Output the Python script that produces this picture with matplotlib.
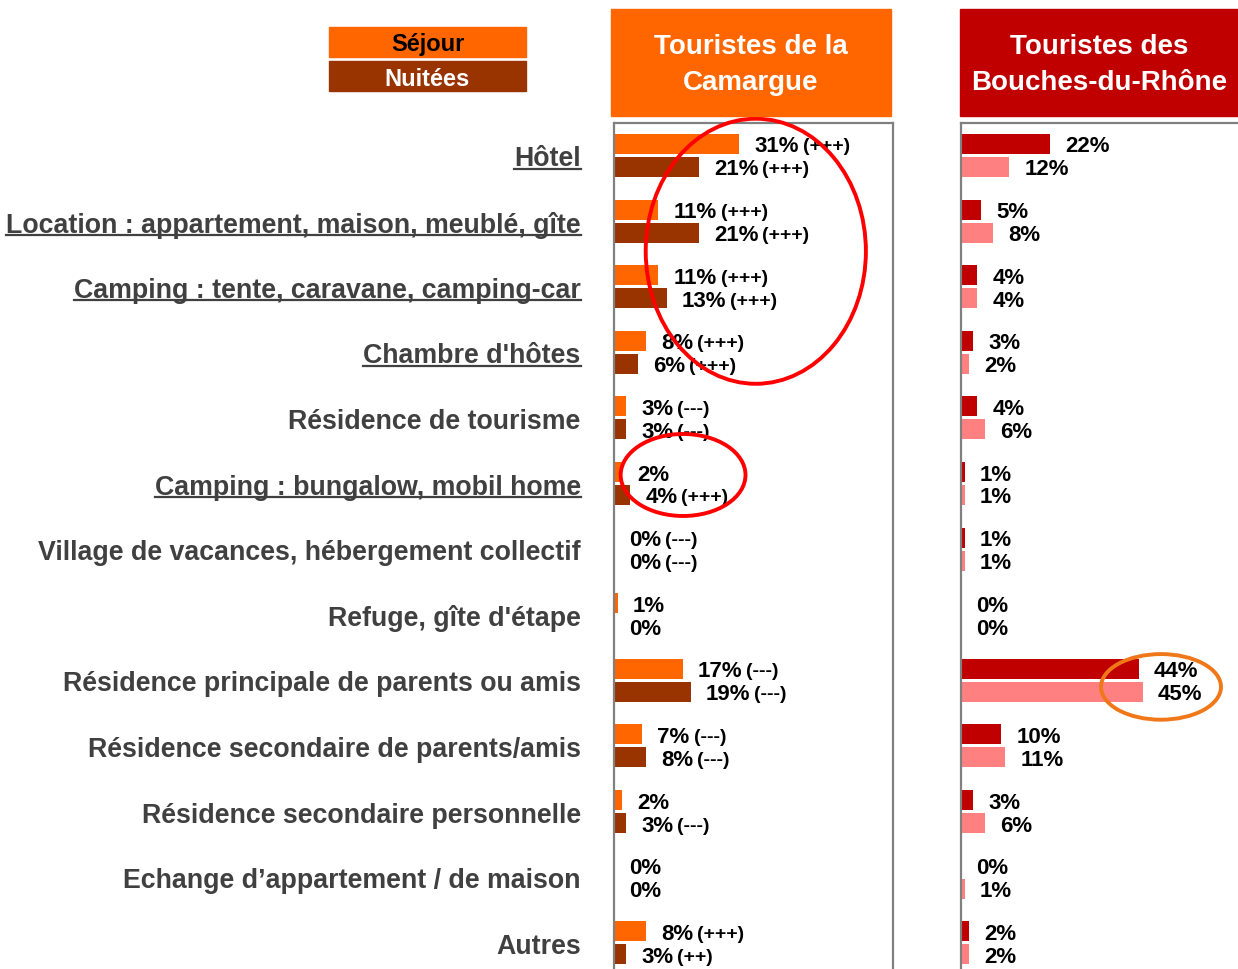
import numpy as np
import matplotlib
matplotlib.use("Agg")
import matplotlib.pyplot as plt
from matplotlib.patches import Rectangle, Ellipse
from matplotlib.lines import Line2D

plt.rcParams["font.family"] = ["Liberation Sans", "DejaVu Sans"]

categories = [
    "Hôtel",
    "Location : appartement, maison, meublé, gîte",
    "Camping : tente, caravane, camping-car",
    "Chambre d'hôtes",
    "Résidence de tourisme",
    "Camping : bungalow, mobil home",
    "Village de vacances, hébergement collectif",
    "Refuge, gîte d'étape",
    "Résidence principale de parents ou amis",
    "Résidence secondaire de parents/amis",
    "Résidence secondaire personnelle",
    "Echange d\u2019appartement / de maison",
    "Autres",
]
underlined = [0, 1, 2, 3, 5]

camargue_sejour = [31, 11, 11, 8, 3, 2, 0, 1, 17, 7, 2, 0, 8]
camargue_nuitees = [21, 21, 13, 6, 3, 4, 0, 0, 19, 8, 3, 0, 3]
camargue_sejour_sig = ["(+++)", "(+++)", "(+++)", "(+++)", "(---)", "", "(---)",
                       "", "(---)", "(---)", "", "", "(+++)"]
camargue_nuitees_sig = ["(+++)", "(+++)", "(+++)", "(+++)", "(---)", "(+++)", "(---)",
                        "", "(---)", "(---)", "(---)", "", "(++)"]

bdr_sejour = [22, 5, 4, 3, 4, 1, 1, 0, 44, 10, 3, 0, 2]
bdr_nuitees = [12, 8, 4, 2, 6, 1, 1, 0, 45, 11, 6, 1, 2]

W, H = 1238, 970
PX_PER_PCT = 4.04
GREY = "#808080"
TEXT_GREY = "#404040"


def draw_panel(ax, sejour, nuitees, c_sej, c_nuit, sig_sej=None, sig_nuit=None):
    y = np.arange(len(sejour))
    ax.barh(y - 0.175, sejour, height=0.305, color=c_sej)
    ax.barh(y + 0.175, nuitees, height=0.305, color=c_nuit)
    ax.set_xlim(0, 279 / PX_PER_PCT)
    ax.set_ylim(12.4, -0.495)
    ax.set_xticks([])
    for sp in ["left", "top", "right"]:
        ax.spines[sp].set_color(GREY)
        ax.spines[sp].set_linewidth(1.6)
    ax.spines["bottom"].set_visible(False)

    for vals, sigs, off in [(sejour, sig_sej, -0.175), (nuitees, sig_nuit, 0.175)]:
        for i, v in enumerate(vals):
            t = ax.annotate(
                f"{v}%",
                xy=(v, i + off),
                xytext=(15, -2),
                textcoords="offset pixels",
                va="center",
                ha="left",
                fontsize=16,
                fontweight="bold",
                color="black",
            )
            if sigs is not None and sigs[i]:
                ax.annotate(
                    sigs[i],
                    xy=(1, 0.5),
                    xycoords=t,
                    xytext=(4, 0),
                    textcoords="offset pixels",
                    va="center",
                    ha="left",
                    fontsize=14,
                    fontweight="bold",
                    color="black",
                )


fig = plt.figure(figsize=(W / 100, H / 100), dpi=100)

ax1 = fig.add_axes([614 / W, 0, 279 / W, 846 / H])
ax2 = fig.add_axes([961 / W, 0, 279 / W, 846 / H])

draw_panel(ax1, camargue_sejour, camargue_nuitees, "#FF6600", "#993300",
           camargue_sejour_sig, camargue_nuitees_sig)
draw_panel(ax2, bdr_sejour, bdr_nuitees, "#C00000", "#FF8080")
ax2.spines["right"].set_visible(False)

ax2.set_yticks([])
ax1.set_yticks(np.arange(len(categories)))
ax1.set_yticklabels(categories, fontsize=19.3, fontweight="bold", color=TEXT_GREY)
ax1.tick_params(axis="y", length=0, pad=24)

# headers
for x0, w, color, title in [
    (611, 280, "#FF6600", "Touristes de la\nCamargue"),
    (960, 278, "#C00000", "Touristes des\nBouches-du-Rhône"),
]:
    fig.patches.append(Rectangle((x0 / W, 1 - 117 / H), w / W, 107 / H,
                                 transform=fig.transFigure, color=color, zorder=0))
    fig.text((x0 + w / 2) / W, 1 - 65 / H, title, ha="center", va="center",
             fontsize=20, fontweight="bold", color="white", linespacing=1.45)

# legend
for y0, color, tcol, label in [
    (28, "#FF6600", "black", "Séjour"),
    (62, "#993300", "white", "Nuitées"),
]:
    fig.patches.append(Rectangle((329 / W, 1 - (y0 + 30) / H), 197 / W, 30 / H,
                                 transform=fig.transFigure, color=color))
    fig.text(427.5 / W, 1 - (y0 + 17) / H, label, ha="center", va="center",
             fontsize=17, fontweight="bold", color=tcol)

# highlight ellipses
ax1.add_patch(Ellipse((35.1, 1.46), 54.5, 4.04, fill=False, edgecolor="#FF0000",
                      linewidth=2.8, clip_on=False, zorder=5))
ax1.add_patch(Ellipse((17.1, 4.87), 30.9, 1.25, fill=False, edgecolor="#FF0000",
                      linewidth=2.8, clip_on=False, zorder=5))
ax2.add_patch(Ellipse((49.5, 8.10), 29.7, 1.0, fill=False, edgecolor="#F07818",
                      linewidth=2.8, clip_on=False, zorder=5))

# underline some category labels
fig.canvas.draw()
inv = fig.transFigure.inverted()
for i, lab in enumerate(ax1.get_yticklabels()):
    if i not in underlined:
        continue
    bb = lab.get_window_extent()
    (x0, y0), (x1, _) = inv.transform([(bb.x0, bb.y0 + 2.5), (bb.x1, bb.y0 + 2.5)])
    fig.add_artist(Line2D([x0, x1], [y0, y0], color=TEXT_GREY, linewidth=1.6,
                          transform=fig.transFigure))

fig.savefig("out.png", dpi=100)
